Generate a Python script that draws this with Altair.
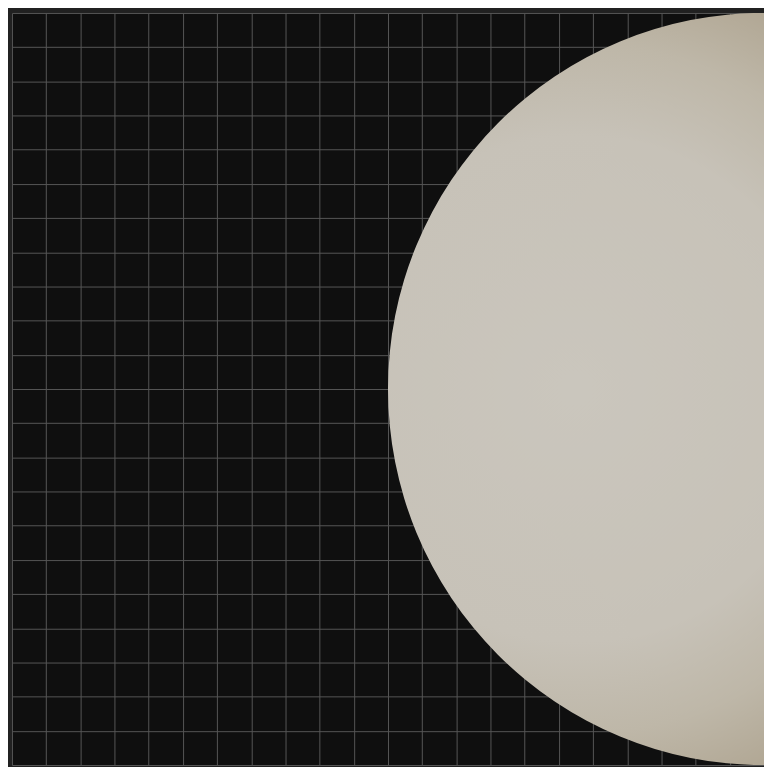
import altair as alt
import pandas as pd

# Data
grid_ticks = list(range(0, 23))          # grid lines every unit, 0..22
circle_x = [22]                          # circle centre (data units)
circle_y = [11]
circle_label = ["sphere"]

df = pd.DataFrame({"x": circle_x, "y": circle_y, "label": circle_label})

W = 756
H = 756

xscale = alt.Scale(domain=[0, 22], nice=False, zero=False)
yscale = alt.Scale(domain=[0, 22], nice=False, zero=False)

axis_common = dict(
    values=grid_ticks,
    labels=False,
    ticks=False,
    domain=False,
    title=None,
    grid=True,
    gridColor="#565656",
    gridWidth=1,
    gridOpacity=1,
)

gradient = {
    "gradient": "radial",
    "x1": 0.25, "y1": 0.5, "r1": 0,
    "x2": 0.25, "y2": 0.5, "r2": 0.56,
    "stops": [
        {"offset": 0.0, "color": "#cac6bd"},
        {"offset": 0.6, "color": "#c7c2b8"},
        {"offset": 0.82, "color": "#beb7a8"},
        {"offset": 1.0, "color": "#b1a794"},
    ],
}

circle = alt.Chart(df).mark_circle(
    fill=gradient, opacity=1, clip=True
).encode(
    x=alt.X("x:Q", scale=xscale, axis=alt.Axis(**axis_common)),
    y=alt.Y("y:Q", scale=yscale, axis=alt.Axis(**axis_common)),
    size=alt.value(W * W),
)

chart = circle.properties(
    width=W,
    height=H,
    background="#212121",
    padding={"left": 4, "top": 3, "right": 0, "bottom": 0},
).configure_view(
    fill="#0f0f0f",
    stroke=None,
)

chart.save("out.html", embed_options={"renderer": "svg", "actions": False})
